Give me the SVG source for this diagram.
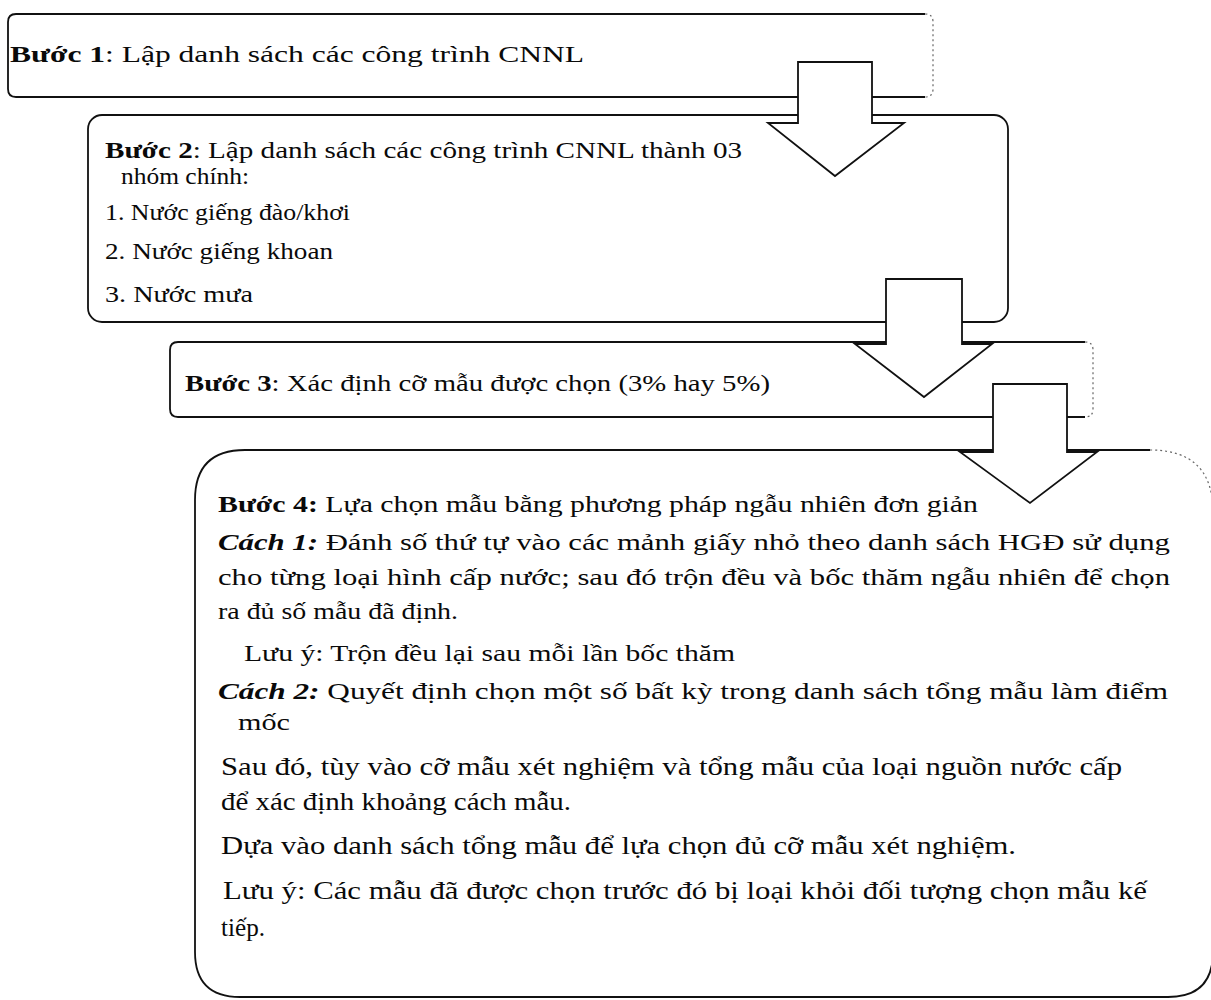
<svg xmlns="http://www.w3.org/2000/svg" width="1211" height="1000" viewBox="0 0 1211 1000">
<style>
.box{fill:none;stroke:#111;stroke-width:1.8}
.dot{fill:none;stroke:#666;stroke-width:1.2;stroke-dasharray:2 3}
.arrow{fill:#fff;stroke:#111;stroke-width:1.8;stroke-linejoin:miter}
.t{font-family:"Liberation Serif","Times New Roman",serif;font-size:23px;fill:#0a0a0a}
.t4{font-family:"Liberation Serif","Times New Roman",serif;font-size:24px;fill:#0a0a0a}
.t5{font-family:"Liberation Serif","Times New Roman",serif;font-size:25px;fill:#0a0a0a}
.b{font-weight:bold}
.bi{font-weight:bold;font-style:italic}
</style>
<rect width="1211" height="1000" fill="#fff"/>
<g id="step1">
<path class="box" d="M925,14 H16 Q8,14 8,22 V89 Q8,97 16,97 H925"/>
<path class="dot" d="M925,14 Q933,14 933,22 V89 Q933,97 925,97"/>
<text class="t" x="10" y="62" textLength="574" lengthAdjust="spacingAndGlyphs"><tspan class="b">Bước 1</tspan>: Lập danh sách các công trình CNNL</text>
</g>
<g id="step2">
<rect class="box" x="88" y="115" width="920" height="207" rx="14"/>
<text class="t" x="105" y="158" textLength="637" lengthAdjust="spacingAndGlyphs"><tspan class="b">Bước 2</tspan>: Lập danh sách các công trình CNNL thành 03</text>
<text class="t" x="121" y="184" textLength="128" lengthAdjust="spacingAndGlyphs">nhóm chính:</text>
<text class="t" x="105" y="220" textLength="245" lengthAdjust="spacingAndGlyphs">1. Nước giếng đào/khơi</text>
<text class="t" x="105" y="259" textLength="228" lengthAdjust="spacingAndGlyphs">2. Nước giếng khoan</text>
<text class="t" x="105" y="302" textLength="148" lengthAdjust="spacingAndGlyphs">3. Nước mưa</text>
</g>
<g id="step3">
<path class="box" d="M1085,342 H178 Q170,342 170,350 V409 Q170,417 178,417 H1085"/>
<path class="dot" d="M1085,342 Q1093,342 1093,350 V409 Q1093,417 1085,417"/>
<text class="t" x="185" y="391" textLength="585" lengthAdjust="spacingAndGlyphs"><tspan class="b">Bước 3</tspan>: Xác định cỡ mẫu được chọn (3% hay 5%)</text>
</g>
<g id="step4">
<path class="box" d="M1150,450 H245 Q195,450 195,500 V952 Q195,997 240,997 H1168 Q1213,997 1213,952"/>
<path class="dot" d="M1150,450 Q1213,450 1213,512"/>
<text class="t4" x="218" y="512" textLength="760" lengthAdjust="spacingAndGlyphs"><tspan class="b">Bước 4:</tspan> Lựa chọn mẫu bằng phương pháp ngẫu nhiên đơn giản</text>
<text class="t4" x="218" y="550" textLength="952" lengthAdjust="spacingAndGlyphs"><tspan class="bi">Cách 1:</tspan> Đánh số thứ tự vào các mảnh giấy nhỏ theo danh sách HGĐ sử dụng</text>
<text class="t4" x="218" y="585" textLength="952" lengthAdjust="spacingAndGlyphs">cho từng loại hình cấp nước; sau đó trộn đều và bốc thăm ngẫu nhiên để chọn</text>
<text class="t4" x="218" y="619" textLength="240" lengthAdjust="spacingAndGlyphs">ra đủ số mẫu đã định.</text>
<text class="t4" x="244" y="661" textLength="491" lengthAdjust="spacingAndGlyphs">Lưu ý: Trộn đều lại sau mỗi lần bốc thăm</text>
<text class="t4" x="218" y="699" textLength="950" lengthAdjust="spacingAndGlyphs"><tspan class="bi">Cách 2:</tspan> Quyết định chọn một số bất kỳ trong danh sách tổng mẫu làm điểm</text>
<text class="t4" x="238" y="730" textLength="52" lengthAdjust="spacingAndGlyphs">mốc</text>
<text class="t5" x="221" y="775" textLength="901" lengthAdjust="spacingAndGlyphs">Sau đó, tùy vào cỡ mẫu xét nghiệm và tổng mẫu của loại nguồn nước cấp</text>
<text class="t5" x="221" y="810" textLength="350" lengthAdjust="spacingAndGlyphs">để xác định khoảng cách mẫu.</text>
<text class="t5" x="221" y="854" textLength="795" lengthAdjust="spacingAndGlyphs">Dựa vào danh sách tổng mẫu để lựa chọn đủ cỡ mẫu xét nghiệm.</text>
<text class="t5" x="223" y="899" textLength="924" lengthAdjust="spacingAndGlyphs">Lưu ý: Các mẫu đã được chọn trước đó bị loại khỏi đối tượng chọn mẫu kế</text>
<text class="t5" x="221" y="936" textLength="44" lengthAdjust="spacingAndGlyphs">tiếp.</text>
</g>
<g id="connectors">
<polygon class="arrow" points="798,62 872,62 872,123 904,123 835,176 768,123 798,123"/>
<polygon class="arrow" points="886,279 962,279 962,344 992,344 924,397 855,344 886,344"/>
<polygon class="arrow" points="993,384 1067,384 1067,452 1097,452 1030,503 960,452 993,452"/>
</g>
</svg>
